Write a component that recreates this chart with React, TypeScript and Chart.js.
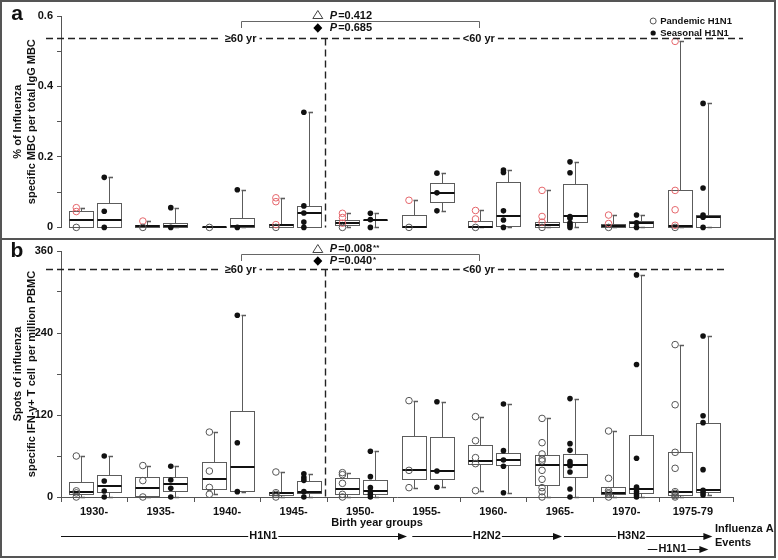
import React, { useEffect, useRef } from 'react';
import { Chart, registerables } from 'chart.js';
Chart.register(...registerables);

const FAMILY = '"Liberation Sans", Arial, Helvetica, sans-serif';
const B11 = `bold 11px ${FAMILY}`;
const RED = '#e5666b';

const categories = ['1930-', '1935-', '1940-', '1945-', '1950-', '1955-', '1960-', '1965-', '1970-', '1975-79'];

// Panel a: % of influenza-specific MBC per total IgG MBC
// box stats: [low whisker, q1, median, q3, high whisker]
const mbcPandemicBox = [
  [0, 0, 0.022, 0.047, 0.055],
  [0, 0, 0.004, 0.008, 0.019],
  [0, 0, 0, 0, 0],
  [0.001, 0.001, 0.007, 0.01, 0.084],
  [0, 0.006, 0.013, 0.022, 0.04],
  [0, 0, 0.002, 0.035, 0.077],
  [0, 0.001, 0.002, 0.017, 0.048],
  [0, 0.001, 0.006, 0.015, 0.105],
  [0, 0.001, 0.004, 0.009, 0.035],
  [0, 0.001, 0.004, 0.105, 0.528],
];
const mbcSeasonalBox = [
  [0, 0, 0.022, 0.07, 0.142],
  [0, 0.001, 0.004, 0.013, 0.056],
  [0, 0.001, 0.003, 0.026, 0.107],
  [0, 0, 0.041, 0.061, 0.327],
  [0, 0.02, 0.021, 0.022, 0.04],
  [0.047, 0.072, 0.098, 0.126, 0.154],
  [0, 0.005, 0.032, 0.128, 0.163],
  [0, 0.015, 0.033, 0.124, 0.186],
  [0, 0.001, 0.013, 0.017, 0.035],
  [0, 0.001, 0.029, 0.035, 0.352],
];
const mbcPandemicPoints = [
  [0.056, 0.045, 0],
  [0.018, 0],
  [0],
  [0.084, 0.073, 0.008, 0],
  [0.04, 0.028, 0.012, 0],
  [0.077, 0],
  [0.048, 0.024, 0],
  [0.105, 0.031, 0.015, 0],
  [0.035, 0.011, 0],
  [0.528, 0.105, 0.05, 0.006, 0],
];
const mbcSeasonalPoints = [
  [0.142, 0.046, 0],
  [0.056, 0],
  [0.107, 0],
  [0.327, 0.061, 0.041, 0.015, 0],
  [0.04, 0.022, 0],
  [0.154, 0.098, 0.047],
  [0.163, 0.156, 0.047, 0.021, 0],
  [0.186, 0.155, 0.031, 0.026, 0.012, 0.006, 0],
  [0.035, 0.013, 0],
  [0.352, 0.112, 0.035, 0.029, 0],
];

// Panel b: spots of IFN-γ+ T cells per million PBMC
const spotPandemicBox = [
  [0, 5, 7, 22, 60],
  [0, 1.5, 12.7, 29.8, 46],
  [4, 12, 26, 51, 95],
  [0, 3, 5.4, 6.8, 36.6],
  [0, 4, 11, 28, 35.6],
  [13.7, 26, 39, 89, 141],
  [9.3, 49, 52, 76, 117.6],
  [0, 17, 47, 61, 115],
  [0, 4.4, 6.3, 14.2, 96.6],
  [0, 2.9, 7.8, 65.4, 223],
];
const spotSeasonalBox = [
  [0, 7.8, 16.6, 32.2, 60],
  [0, 9.3, 18.5, 29.8, 45],
  [7.8, 8.8, 44.4, 126, 266],
  [0, 6.3, 6.8, 23.9, 34],
  [0, 3.9, 9.3, 24.9, 67],
  [14.2, 26.3, 38, 88.3, 139.5],
  [6.3, 46.8, 54.1, 64.9, 136],
  [0, 29.3, 46.8, 63.4, 144],
  [0, 5.9, 12.2, 91.2, 325],
  [2.9, 7.8, 9.8, 108.3, 235.6],
];
const spotPandemicPoints = [
  [60, 9, 6, 0],
  [46, 24, 0],
  [95, 38, 14, 4],
  [36.6, 6.3, 3.9, 0],
  [35.6, 32.7, 20, 3.9, 0],
  [141, 39, 13.7],
  [117.6, 82.4, 57.6, 48.8, 9.3],
  [115, 79.5, 63, 55.6, 52.7, 39, 25.9, 13.7, 7.8, 0],
  [96.6, 27.3, 9.3, 6.3, 4.4, 0],
  [223, 135, 65.4, 42, 7.8, 5.4, 2, 0],
];
const spotSeasonalPoints = [
  [60, 23.4, 8.8, 0],
  [45, 24.9, 12.7, 0],
  [266, 79.5, 7.8],
  [34, 28.3, 24.4, 7.8, 0],
  [67, 29.8, 13.7, 7.8, 3.9, 0],
  [139.5, 38, 14.2],
  [136, 67.8, 54.1, 44.9, 6.3],
  [144, 78.1, 68.3, 51.7, 47.8, 45.9, 36.6, 11.7, 0],
  [325, 194, 56.6, 14.7, 12.2, 7.8, 3.4, 0],
  [235.6, 119, 108.8, 40, 9.8, 6.3, 2.9],
];

const pValuesA = ['0.412', '0.685'];
const pValuesB = ['0.008', '0.040'];
const pStarsB = ['**', '*'];

const PAND_X = 0.3;
const SEAS_X = 0.72;
const PT_SHIFT = 0.07;
const X_MAX = 10.1;

function pointsData(groups: number[][], off: number) {
  const out: { x: number; y: number }[] = [];
  groups.forEach((vals, i) => vals.forEach((v) => out.push({ x: i + off - PT_SHIFT, y: v })));
  return out;
}

function drawBoxes(chart: any, boxes: number[][], off: number) {
  const { ctx, scales } = chart;
  const x = scales.x;
  const y = scales.y;
  ctx.save();
  boxes.forEach((b, i) => {
    const [lo, q1, med, q3, hi] = b;
    const cx = Math.round(x.getPixelForValue(i + off)) + 0.5;
    const half = 12;
    const py = (v: number) => Math.round(y.getPixelForValue(v)) + 0.5;
    const yLo = py(lo), yQ1 = py(q1), yQ3 = py(q3), yHi = py(hi);
    ctx.strokeStyle = '#5c5c5c';
    ctx.lineWidth = 1;
    ctx.beginPath();
    if (hi > q3) {
      ctx.moveTo(cx, yQ3); ctx.lineTo(cx, yHi);
    }
    if (lo < q1) {
      ctx.moveTo(cx, yQ1); ctx.lineTo(cx, yLo);
    }
    ctx.stroke();
    ctx.lineWidth = 1.6;
    ctx.beginPath();
    if (hi > q3) { ctx.moveTo(cx - 1, yHi); ctx.lineTo(cx + 3.5, yHi); }
    if (lo < q1) { ctx.moveTo(cx - 1, yLo); ctx.lineTo(cx + 3.5, yLo); }
    ctx.stroke();
    ctx.lineWidth = 1;
    ctx.strokeRect(cx - half, yQ3, half * 2, yQ1 - yQ3);
    ctx.strokeStyle = '#111';
    ctx.lineWidth = 2;
    const ym = Math.round(y.getPixelForValue(med));
    ctx.beginPath(); ctx.moveTo(cx - half, ym); ctx.lineTo(cx + half, ym); ctx.stroke();
  });
  ctx.restore();
}

function makeBoxPlugin(pBox: number[][], sBox: number[][]) {
  return {
    id: 'boxes',
    beforeDatasetsDraw(chart: any) {
      drawBoxes(chart, pBox, PAND_X);
      drawBoxes(chart, sBox, SEAS_X);
    },
  };
}

function text(ctx: any, s: string, x: number, y: number, font: string, align = 'left', color = '#111') {
  ctx.font = font;
  ctx.textAlign = align;
  ctx.textBaseline = 'middle';
  ctx.fillStyle = color;
  ctx.fillText(s, x, y);
  return ctx.measureText(s).width;
}

function dashed(ctx: any, x1: number, y1: number, x2: number, y2: number) {
  ctx.save();
  ctx.setLineDash([7, 4]);
  ctx.lineWidth = 1.4;
  ctx.strokeStyle = '#222';
  ctx.beginPath(); ctx.moveTo(x1, y1); ctx.lineTo(x2, y2); ctx.stroke();
  ctx.restore();
}

function gapLabel(ctx: any, s: string, cx: number, y: number, pad = 3) {
  ctx.font = B11;
  const w = ctx.measureText(s).width;
  ctx.fillStyle = '#fff';
  ctx.fillRect(cx - w / 2 - pad, y - 6, w + pad * 2, 12);
  text(ctx, s, cx, y, B11, 'center');
}

function bracket(ctx: any, x1: number, x2: number, y: number, drop: number) {
  ctx.save();
  ctx.strokeStyle = '#666';
  ctx.lineWidth = 1;
  ctx.beginPath();
  ctx.moveTo(Math.round(x1) + 0.5, y + drop);
  ctx.lineTo(Math.round(x1) + 0.5, y + 0.5);
  ctx.lineTo(Math.round(x2) + 0.5, y + 0.5);
  ctx.lineTo(Math.round(x2) + 0.5, y + drop);
  ctx.stroke();
  ctx.restore();
}

function triangle(ctx: any, cx: number, cy: number) {
  ctx.save();
  ctx.strokeStyle = '#444';
  ctx.lineWidth = 1;
  ctx.beginPath();
  ctx.moveTo(cx, cy - 4.5); ctx.lineTo(cx + 5, cy + 3.5); ctx.lineTo(cx - 5, cy + 3.5); ctx.closePath();
  ctx.stroke();
  ctx.restore();
}

function diamond(ctx: any, cx: number, cy: number) {
  ctx.save();
  ctx.fillStyle = '#000';
  ctx.beginPath();
  ctx.moveTo(cx, cy - 4.8); ctx.lineTo(cx + 4.5, cy); ctx.lineTo(cx, cy + 4.8); ctx.lineTo(cx - 4.5, cy); ctx.closePath();
  ctx.fill();
  ctx.restore();
}

function pText(ctx: any, x: number, y: number, val: string, stars = '') {
  const w1 = text(ctx, 'P', x, y, `italic bold 11px ${FAMILY}`);
  const w2 = text(ctx, '=' + val, x + w1 + 1, y, B11);
  if (stars) text(ctx, stars, x + w1 + w2 + 2, y - 1, `bold 8px ${FAMILY}`);
}

function arrow(ctx: any, x1: number, x2: number, y: number, label: string, lx: number) {
  ctx.save();
  ctx.strokeStyle = '#111';
  ctx.fillStyle = '#111';
  ctx.lineWidth = 1;
  ctx.beginPath(); ctx.moveTo(x1, y + 0.5); ctx.lineTo(x2 - 6, y + 0.5); ctx.stroke();
  ctx.beginPath(); ctx.moveTo(x2, y + 0.5); ctx.lineTo(x2 - 9, y - 3); ctx.lineTo(x2 - 9, y + 4); ctx.closePath(); ctx.fill();
  ctx.restore();
  gapLabel(ctx, label, lx, y, 1);
}

const annPluginA = {
  id: 'annA',
  afterDraw(chart: any) {
    const { ctx, chartArea, scales } = chart;
    const px = (v: number) => scales.x.getPixelForValue(v);
    ctx.save();
    text(ctx, 'a', 17, 14, `bold 21px ${FAMILY}`, 'center');
    bracket(ctx, px(2.7), px(6.28), 21, 7);
    triangle(ctx, px(3.86), 15);
    pText(ctx, px(4.04), 15.5, pValuesA[0]);
    diamond(ctx, px(3.86), 28);
    pText(ctx, px(4.04), 28, pValuesA[1]);
    dashed(ctx, chartArea.left - 15, 38.5, chartArea.right + 10, 38.5);
    gapLabel(ctx, '≥60 yr', px(2.7), 38.5);
    gapLabel(ctx, '<60 yr', px(6.28), 38.5);
    const vx = Math.round(px(3.97)) + 0.5;
    dashed(ctx, vx, 38.5, vx, chartArea.bottom);
    // legend
    const lx = px(8.9);
    ctx.strokeStyle = '#555'; ctx.lineWidth = 1;
    ctx.beginPath(); ctx.arc(lx, 21, 3, 0, Math.PI * 2); ctx.stroke();
    ctx.fillStyle = '#111';
    ctx.beginPath(); ctx.arc(lx, 33, 2.6, 0, Math.PI * 2); ctx.fill();
    text(ctx, 'Pandemic H1N1', lx + 7, 21, `bold 9.5px ${FAMILY}`);
    text(ctx, 'Seasonal H1N1', lx + 7, 33, `bold 9.5px ${FAMILY}`);
    ctx.restore();
  },
};

const annPluginB = {
  id: 'annB',
  afterDraw(chart: any) {
    const { ctx, chartArea, scales } = chart;
    const px = (v: number) => scales.x.getPixelForValue(v);
    ctx.save();
    text(ctx, 'b', 17, 11, `bold 21px ${FAMILY}`, 'center');
    bracket(ctx, px(2.7), px(6.28), 14, 7);
    triangle(ctx, px(3.86), 9);
    pText(ctx, px(4.04), 9, pValuesB[0], pStarsB[0]);
    diamond(ctx, px(3.86), 21);
    pText(ctx, px(4.04), 21, pValuesB[1], pStarsB[1]);
    dashed(ctx, chartArea.left - 15, 29.5, chartArea.right - 6, 29.5);
    gapLabel(ctx, '≥60 yr', px(2.7), 29.5);
    gapLabel(ctx, '<60 yr', px(6.28), 29.5);
    const vx = Math.round(px(3.97)) + 0.5;
    dashed(ctx, vx, 29.5, vx, chartArea.bottom);
    text(ctx, 'Birth year groups', px(4.75), 283, B11, 'center');
    arrow(ctx, chartArea.left, px(5.2), 296, 'H1N1', px(3.04));
    arrow(ctx, px(5.28), px(7.53), 296, 'H2N2', px(6.4));
    arrow(ctx, px(7.56), px(9.79), 296, 'H3N2', px(8.57));
    arrow(ctx, px(8.82), px(9.73), 309, 'H1N1', px(9.19));
    text(ctx, 'Influenza A', px(9.83), 289, B11);
    text(ctx, 'Events', px(9.83), 303, B11);
    ctx.restore();
  },
};

function yAxis(max: number, step: number, labelEvery: number, title: string[]) {
  return {
    min: 0,
    max,
    afterFit: (s: any) => { s.width = 50; },
    ticks: {
      stepSize: step,
      autoSkip: false,
      padding: 4,
      color: '#111',
      font: { size: 11, weight: 'bold', family: FAMILY },
      callback: (v: number) => {
        const k = Math.round(v / step);
        const every = Math.round(labelEvery / step);
        return k % every === 0 ? String(+(k * step).toFixed(2)) : '';
      },
    },
    grid: { drawOnChartArea: false, drawTicks: true, tickLength: 4, color: '#555' },
    border: { display: true, color: '#555', width: 1 },
    title: {
      display: true,
      text: title,
      color: '#111',
      padding: { top: 0, bottom: 0 },
      font: { size: 11, weight: 'bold', family: FAMILY, lineHeight: 1.3 },
    },
  };
}

function datasets(pPts: number[][], sPts: number[][], redPandemic: boolean) {
  return [
    {
      label: 'Pandemic H1N1',
      data: pointsData(pPts, PAND_X),
      pointRadius: 3.3,
      pointBorderWidth: 1,
      pointBackgroundColor: 'rgba(255,255,255,0)',
      pointBorderColor: (c: any) => (redPandemic && c.raw && c.raw.y > 0 ? RED : '#555'),
      clip: false,
    },
    {
      label: 'Seasonal H1N1',
      data: pointsData(sPts, SEAS_X),
      pointRadius: 2.8,
      pointBorderWidth: 0,
      pointBackgroundColor: '#111',
      clip: false,
    },
  ];
}

export default function App() {
  const refA = useRef<HTMLCanvasElement>(null);
  const refB = useRef<HTMLCanvasElement>(null);

  useEffect(() => {
    Chart.defaults.font.family = FAMILY;
    const chartA = new Chart(refA.current as HTMLCanvasElement, {
      type: 'scatter',
      data: { datasets: datasets(mbcPandemicPoints, mbcSeasonalPoints, true) as any },
      options: {
        responsive: false,
        animation: false,
        events: [],
        layout: { padding: { left: 11, top: 16, right: 45, bottom: 6 } },
        plugins: { legend: { display: false }, tooltip: { enabled: false } },
        scales: {
          x: { type: 'linear', min: 0, max: X_MAX, display: false },
          y: yAxis(0.6, 0.1, 0.2, ['% of Influenza', 'specific MBC per total IgG MBC']) as any,
        },
      },
      plugins: [makeBoxPlugin(mbcPandemicBox, mbcSeasonalBox), annPluginA],
    });
    const chartB = new Chart(refB.current as HTMLCanvasElement, {
      type: 'scatter',
      data: { datasets: datasets(spotPandemicPoints, spotSeasonalPoints, false) as any },
      options: {
        responsive: false,
        animation: false,
        events: [],
        layout: { padding: { left: 11, top: 11, right: 45, bottom: 0 } },
        plugins: { legend: { display: false }, tooltip: { enabled: false } },
        scales: {
          x: {
            type: 'linear',
            min: 0,
            max: X_MAX,
            afterFit: (s: any) => { s.height = 61; },
            afterBuildTicks: (s: any) => { s.ticks = s.ticks.filter((t: any) => t.value !== 10); },
            ticks: {
              stepSize: 1,
              autoSkip: false,
              maxRotation: 0,
              labelOffset: 33,
              padding: 3,
              color: '#111',
              font: { size: 11, weight: 'bold', family: FAMILY },
              callback: (v: number) => (Number.isInteger(v) && categories[v] ? categories[v] : ''),
            },
            grid: { drawOnChartArea: false, drawTicks: true, tickLength: 5, color: '#555' },
            border: { display: true, color: '#555', width: 1 },
          } as any,
          y: yAxis(360, 60, 120, ['Spots of influenza', 'specific IFN-γ+ T cell  per million PBMC']) as any,
        },
      },
      plugins: [makeBoxPlugin(spotPandemicBox, spotSeasonalBox), annPluginB],
    });
    return () => {
      chartA.destroy();
      chartB.destroy();
    };
  }, []);

  return (
    <div style={{ position: 'absolute', left: 0, top: 0, width: 778, height: 560, background: '#fff', overflow: 'hidden' }}>
      <canvas ref={refA} width={778} height={238} style={{ position: 'absolute', left: 0, top: 0, display: 'block' }} />
      <canvas ref={refB} width={778} height={318} style={{ position: 'absolute', left: 0, top: 240, display: 'block' }} />
      <div style={{ position: 'absolute', left: 0, top: 0, width: 776, height: 558, border: '2px solid #555', boxSizing: 'border-box', pointerEvents: 'none' }} />
      <div style={{ position: 'absolute', left: 0, top: 238, width: 776, height: 2, background: '#555', pointerEvents: 'none' }} />
    </div>
  );
}
